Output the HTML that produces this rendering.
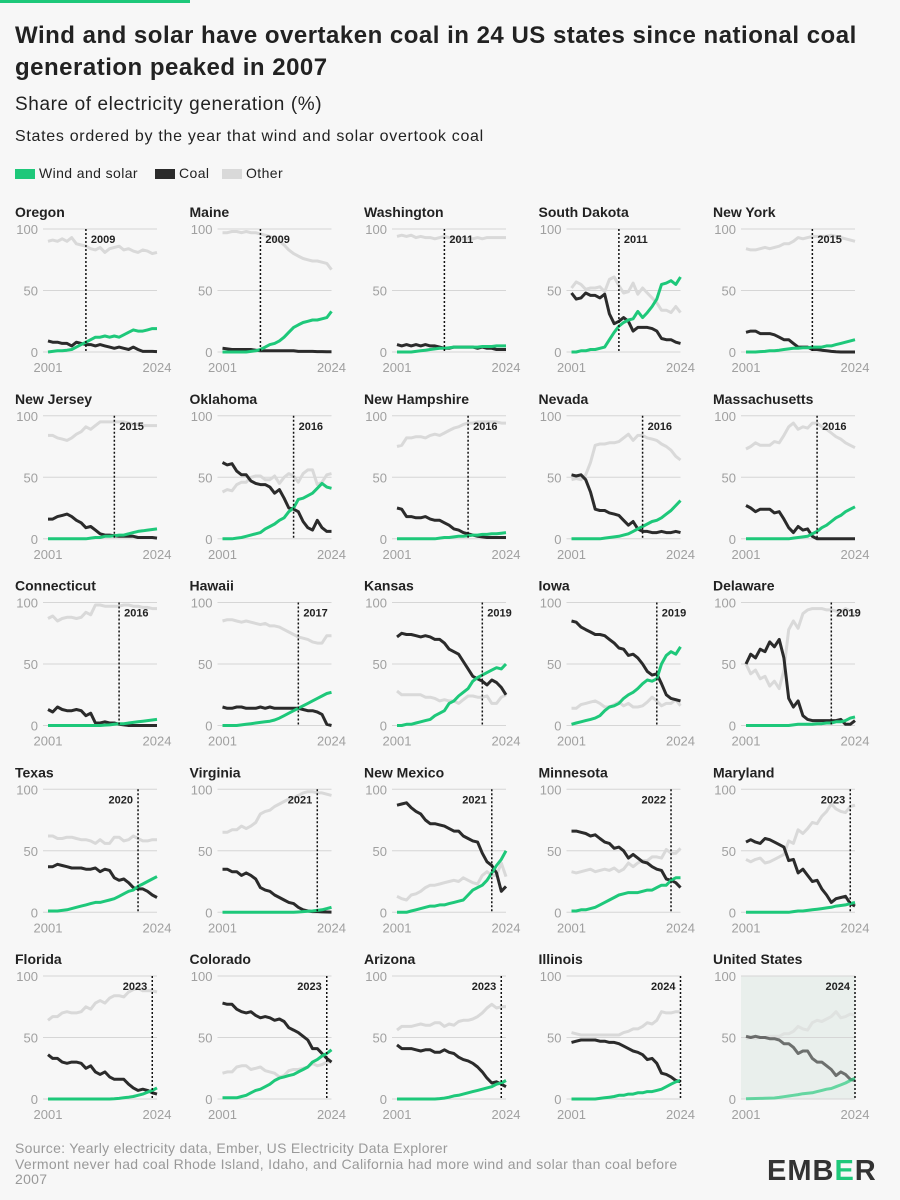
<!DOCTYPE html>
<html><head><meta charset="utf-8">
<style>
body{margin:0;background:#f7f7f7;}
svg{display:block;font-family:"Liberation Sans",sans-serif;}
</style></head>
<body>
<svg id="chart" width="900" height="1200" viewBox="0 0 900 1200">
<rect width="900" height="1200" fill="#f7f7f7"/>
<rect x="0" y="0" width="190" height="3" fill="#1ec87a"/>
<text x="15" y="43" font-size="24" font-weight="bold" fill="#222" letter-spacing="0.5">Wind and solar have overtaken coal in 24 US states since national coal</text>
<text x="15" y="75" font-size="24" font-weight="bold" fill="#222" letter-spacing="0.5">generation peaked in 2007</text>
<text x="15" y="110" font-size="19" fill="#222" letter-spacing="0.6">Share of electricity generation (%)</text>
<text x="15" y="141" font-size="16" fill="#222" letter-spacing="0.7">States ordered by the year that wind and solar overtook coal</text>
<g>
<rect x="15" y="169" width="20" height="10" fill="#1ec87a"/>
<text x="39" y="178" font-size="14" fill="#222" letter-spacing="0.4">Wind and solar</text>
<rect x="155" y="169" width="20" height="10" fill="#2b2b2b"/>
<text x="179" y="178" font-size="14" fill="#222" letter-spacing="0.4">Coal</text>
<rect x="222" y="169" width="20" height="10" fill="#d9d9d9"/>
<text x="246" y="178" font-size="14" fill="#222" letter-spacing="0.4">Other</text>
</g>
<g id="panels"></g>
<text x="15" y="1153" font-size="14" fill="#999" letter-spacing="0.3">Source: Yearly electricity data, Ember, US Electricity Data Explorer</text>
<text x="15" y="1169" font-size="14" fill="#999" letter-spacing="0.3">Vermont never had coal Rhode Island, Idaho, and California had more wind and solar than coal before</text>
<text x="15" y="1184" font-size="14" fill="#999" letter-spacing="0.3">2007</text>
<text x="767" y="1180" font-size="29" font-weight="bold" fill="#333" letter-spacing="1">EMB<tspan fill="#1ec87a">E</tspan>R</text>
</svg>
<script>
const names = ["Oregon","Maine","Washington","South Dakota","New York","New Jersey","Oklahoma","New Hampshire","Nevada","Massachusetts","Connecticut","Hawaii","Kansas","Iowa","Delaware","Texas","Virginia","New Mexico","Minnesota","Maryland","Florida","Colorado","Arizona","Illinois","United States"];
const crossYears = [2009,2009,2011,2011,2015,2015,2016,2016,2016,2016,2016,2017,2019,2019,2019,2020,2021,2021,2022,2023,2023,2023,2023,2024,2024];
const windSolar = [
[0,0.5,1,1,1.5,2,4,6,8,10,12,12,13,12,13,12,14,16,18,17,17,18,19,19],
[0,0,0,0,0,0,0.5,1,2,4,6,7,9,12,16,20,22,24,25,26,26,27,28,33],
[0,0,0,0,0.5,1,1.5,2,2.5,3,3,3.5,4,4,4,4,4,4,4.5,4.5,4.5,5,5,5],
[0,0,1,1,2,2,3,4,10,16,21,24,26,27,33,28,32,37,43,55,56,58,55,61],
[0,0,0,0.3,0.5,1,1,1.5,2,2.5,3,3,3.5,3.5,4,4,4,5,5,6,7,8,9,10],
[0,0,0,0,0,0,0,0,0,0.5,1,1,2,2,2.5,3,3,4,5,6,6.5,7,7.5,8],
[0,0,0,0.5,1,2,3,4,5,8,10,12,15,17,22,25,32,33,35,37,41,45,42,41],
[0,0,0,0,0,0,0,0,0,0.5,1,1,1.5,2,2,2.5,3,3,3.5,3.5,4,4,4.5,5],
[0,0,0,0,0,0,0,0.5,1,1.5,2,3,4,6,8,10,12,14,15,17,20,23,27,31],
[0,0,0,0,0,0,0,0,0,0,0.5,1,1.5,2,4,6,9,11,14,17,19,22,24,26],
[0,0,0,0,0,0,0,0,0,0,0,0,0.3,0.5,1,1.5,1.5,2,2.5,3,3.5,4,4.5,5],
[0,0,0,0,0.5,1,1.5,2,2.5,3,3.5,4.5,6,8,10,12,14,16,18,20,22,24,26,27],
[0,0,1,1,2,3,4,5,8,10,12,18,20,24,27,30,36,39,41,43,45,47,46,50],
[1,2,3,4,5,6,8,12,15,16,18,22,25,27,30,34,37,36,38,50,57,60,58,64],
[0,0,0,0,0,0,0,0,0,0,0.5,1,1,1,1,1.5,1.5,2,2,3,3,4,6,7],
[1,1,1,1.5,2,3,4,5,6,7,8,8,9,10,11,13,15,17,18,21,23,25,27,29],
[0,0,0,0,0,0,0,0,0,0,0,0,0,0,0,0,0.2,0.5,0.8,1,1.5,2,3,4],
[0,0,0,1,2,3,4,5,5,6,6,7,8,9,10,14,18,20,22,26,32,38,43,50],
[1,1,2,2,3,4,6,8,10,12,14,15,16,16,16,17,18,18,20,22,22,26,28,28],
[0,0,0,0,0,0,0,0,0,0,0.5,1,1,1.5,2,2.5,3,3.5,4,5,5.5,6,7,8],
[0,0,0,0,0,0,0,0,0,0,0,0,0,0,0.2,0.5,1,1.5,2,3,4,5.5,7,9],
[1,1,1,1,2,3,5,7,8,10,12,15,17,18,19,20,22,24,26,30,32,35,37,40],
[0,0,0,0,0,0,0,0,0,0.3,0.7,1.5,2.5,3,4,5,6,7,8,9,10,12,13,15],
[0,0,0,0,0,0,0.5,1,1.5,2,3,3,4,4,5,5,6,6,7,8,10,12,14,15],
[0.2,0.3,0.4,0.5,0.6,0.7,0.8,1.3,1.9,2.4,3,3.6,4.3,4.6,5,6,7,8,8.5,10,11.5,13,15,17]
];
const coal = [
[9,8,8,7,7,5,8,7,6,6,5,6,5,4,3,4,3,2,4,2,0.5,0.5,0.5,0.3],
[3,2.5,2,2,2,2,2,1.5,1,1,1,1,1,1,1,1,0.5,0.5,0.5,0.5,0.3,0.3,0.2,0.2],
[6,5,6,5,6,5,6,5,5,4,3,3,4,4,4,4,4,3,4,3,3,2,2,2],
[48,43,44,48,46,46,44,47,31,23,25,28,25,17,20,20,20,19,17,11,10,10,8,7],
[16,17,17,15,15,15,14,12,10,10,7,4,4,4,2,2,1.5,1,0.5,0.2,0,0,0,0],
[16,16,18,19,20,18,15,13,9,10,7,4,3,3,2.5,2,2,2,2,1,1,1,1,0.5],
[62,60,61,55,52,52,47,45,44,44,42,37,40,33,25,24,22,14,9,7,15,9,6,6],
[25,24,18,18,17,17,18,16,15,15,13,11,8,7,5,4,3,2,1.5,1,1,1,1,1],
[52,51,52,48,38,24,23,23,21,20,19,15,11,14,8,6,6,5,5,6,5,5,6,5],
[27,25,22,24,24,24,21,22,16,9,5,10,7,8,2,0,0,0,0,0,0,0,0,0],
[13,11,15,13,12,12,13,12,8,10,2,2,3,2,2,1,0.5,0,0,0,0,0,0,0],
[15,14,14,15,15,14,14,14,15,14,15,14,14,14,14,14,14,13,12,12,11,9,1,0],
[72,75,74,74,73,72,73,72,70,70,67,62,60,58,52,46,40,38,36,33,37,35,31,25],
[85,84,80,78,76,74,74,73,70,67,63,62,57,58,55,50,44,41,42,34,25,22,21,20],
[50,58,55,62,60,68,64,70,55,22,15,20,8,5,4,4,4,4,4,4,5,1,1,4],
[37,37,39,38,37,36,36,36,35,35,36,33,35,34,28,26,27,24,20,19,19,17,14,12],
[35,35,33,33,30,32,30,27,20,18,17,14,12,10,8,7,4,2,1,0.5,0.5,0.3,0.2,0.1],
[87,88,89,85,82,80,75,72,72,71,70,68,66,66,62,60,58,57,48,41,38,32,17,21],
[66,66,65,64,62,63,60,57,56,52,53,50,44,47,44,41,40,37,35,34,27,26,24,20],
[57,59,57,56,60,59,57,55,53,42,43,32,35,30,25,26,19,14,8,11,12,13,7,5],
[36,33,33,30,29,30,30,29,25,27,22,20,22,18,16,16,16,12,9,7,8,7,5,4],
[78,77,77,73,71,70,71,68,66,67,66,64,65,63,58,56,54,51,48,41,41,37,33,30],
[44,41,41,41,40,39,40,40,38,38,40,38,37,34,32,31,29,26,22,17,13,14,12,10],
[46,47,48,48,48,48,47,47,46,46,45,43,41,39,38,36,32,33,29,21,20,18,15,14],
[51,50,51,50,50,49,49,48,45,45,42,37,39,39,33,30,30,27,24,19,22,20,16,15]
];
const other = [
[90,91,90,92,90,93,88,87,86,84,83,85,81,84,85,86,83,84,82,81,83,82,80,81],
[97,97,98,98,97,98,97,97,96,95,94,92,90,87,83,80,78,76,75,74,74,73,72,67],
[94,95,94,95,93,94,93,93,92,93,94,93,92,92,92,92,92,93,92,93,93,93,93,93],
[52,57,55,51,52,52,53,49,59,61,54,48,49,56,47,52,48,44,40,34,34,32,37,32],
[84,83,83,84,85,84,85,86,88,88,90,93,92,93,94,94,94,94,95,94,93,92,91,90],
[84,84,82,81,80,82,85,87,91,89,92,95,95,95,95,95,95,94,93,93,92,92,92,92],
[38,40,39,44,46,46,50,51,51,48,48,51,45,50,53,51,46,53,56,56,44,46,52,53],
[75,76,82,82,83,83,82,84,85,84,86,88,90,91,93,94,94,95,95,95,95,95,94,94],
[48,49,48,52,62,76,77,77,78,78,79,82,85,80,84,84,82,81,80,77,75,72,67,64],
[73,75,78,76,76,76,79,78,84,91,94,89,91,90,94,94,91,89,86,83,81,78,76,74],
[87,89,85,87,88,88,87,88,92,90,98,98,97,97,97,97,98,98,97,97,96,96,95,95],
[85,86,86,85,84,85,84,83,82,83,81,81,80,78,76,74,72,71,70,68,67,67,73,73],
[28,25,25,25,25,25,23,23,22,20,21,20,20,18,21,24,24,23,23,24,18,18,23,25],
[14,14,17,18,19,20,18,15,15,17,19,16,18,15,15,16,19,23,20,16,18,18,21,16],
[50,42,45,38,40,32,36,30,45,78,85,79,91,94,95,95,95,94,94,93,92,95,93,89],
[62,62,60,60,61,61,60,59,59,58,56,59,56,56,61,61,58,59,62,60,58,58,59,59],
[65,65,67,67,70,68,70,73,80,82,83,86,88,90,92,93,95,97,98,98,97,97,96,95],
[13,11,10,14,15,17,20,22,22,23,24,25,26,25,28,26,24,23,30,33,30,30,40,29],
[33,32,33,34,35,33,34,35,34,36,33,35,40,37,40,42,42,45,45,44,51,48,48,52],
[43,41,43,44,40,41,43,45,47,58,56,67,64,68,73,72,78,82,88,84,82,81,86,87],
[64,67,67,70,71,70,70,71,75,73,78,80,78,82,84,84,83,87,89,90,88,88,88,87],
[21,22,22,26,27,27,24,25,26,23,22,21,18,19,23,24,24,25,26,29,27,28,30,30],
[56,59,59,59,60,61,60,60,62,62,59,61,60,63,64,64,65,67,70,74,77,74,75,75],
[54,53,52,52,52,52,52,52,52,52,52,54,55,57,57,59,62,61,64,71,70,70,71,71],
[49,50,49,50,50,51,51,51,53,53,55,59,57,56,62,64,63,65,67,71,66,67,69,68]
];
const yTicks = [0,50,100];
const startYear = 2001, endYear = 2024;

const NS = "http://www.w3.org/2000/svg";
const root = document.getElementById("panels");
function mk(tag, attrs, parent){const e=document.createElementNS(NS,tag);for(const k in attrs)e.setAttribute(k,attrs[k]);parent.appendChild(e);return e;}
const W = 109, H = 123;
names.forEach((name, p) => {
  const c = p % 5, r = Math.floor(p / 5);
  const x0 = 48 + c * 174.5, y0 = 352 + r * 186.75;
  const xs = yr => x0 + (yr - startYear) / (endYear - startYear) * W;
  const ys = v => y0 - v / 100 * H;
  const slug = name.toLowerCase().replace(/ /g, "-");
  const g = mk("g", {}, root);
  
  
  const isUS = name === "United States";
  if (isUS) {
    const bg = mk("rect", {x: x0 - 5, y: ys(100), width: W + 5, height: H, fill: "#e9efec"}, g);
    
    
  }
  const t = mk("text", {x: x0 - 33, y: y0 - 135, "font-size": 14, "font-weight": "bold", fill: "#222"}, g);
  t.textContent = name;
  
  
  yTicks.forEach(v => {
    const gl = mk("line", {x1: x0 - 5, x2: x0 + W, y1: ys(v), y2: ys(v), stroke: "#d6d6d6", "stroke-width": 1}, g);
    
    
    const tl = mk("text", {x: x0 - 10, y: ys(v) + 5, "font-size": 13, fill: "#a0a0a0", "text-anchor": "end"}, g);
    tl.textContent = v;
    
    
  });
  [startYear, endYear].forEach(yr => {
    const xl = mk("text", {x: xs(yr), y: y0 + 20, "font-size": 13, fill: "#a0a0a0", "text-anchor": "middle"}, g);
    xl.textContent = yr;
    
    
  });
  const series = [[other[p], "#d9d9d9", "other"], [coal[p], "#2b2b2b", "coal"], [windSolar[p], "#1ec87a", "wind-solar"]];
  series.forEach(([vals, col, key]) => {
    const d = vals.map((v, i) => (i ? "L" : "M") + xs(startYear + i).toFixed(1) + "," + ys(v).toFixed(1)).join("");
    const path = mk("path", {d: d, fill: "none", stroke: col, "stroke-width": 3, "stroke-linejoin": "round", opacity: isUS ? (key === "other" ? 0.6 : 0.65) : 1}, g);
    
    
  });
  const cx = xs(crossYears[p]);
  const vl = mk("line", {x1: cx, x2: cx, y1: ys(100), y2: y0, stroke: "#111", "stroke-width": 1.5, "stroke-dasharray": "2,2"}, g);
  
  
  const cl = mk("text", {x: cx + (crossYears[p] >= 2020 ? -5 : 5), y: ys(100) + 14, "font-size": 11, "font-weight": "bold", fill: "#222", "text-anchor": crossYears[p] >= 2020 ? "end" : "start"}, g);
  cl.textContent = crossYears[p];
  
  
});
</script>
</body></html>
